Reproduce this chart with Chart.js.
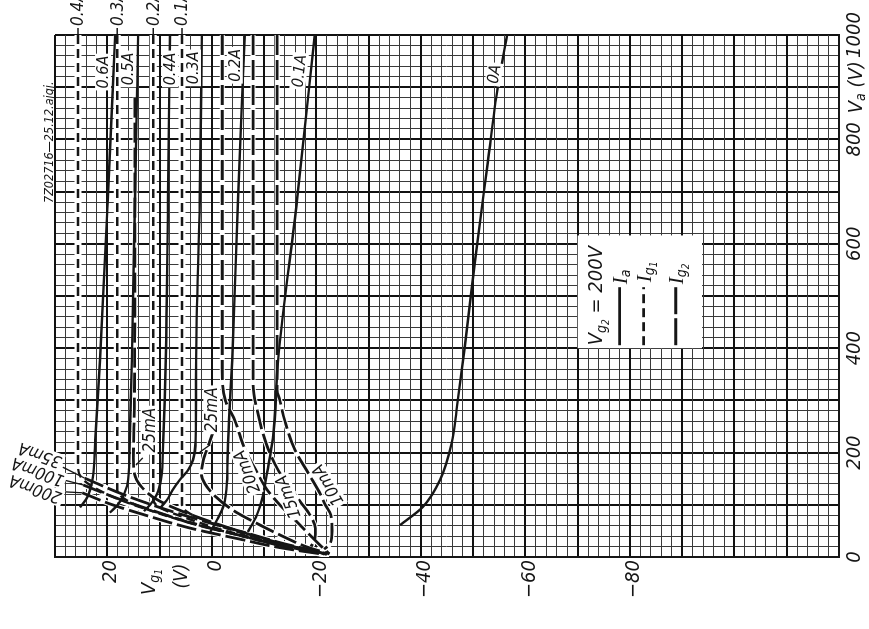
<!DOCTYPE html>
<html>
<head>
<meta charset="utf-8">
<script src="https://cdn.jsdelivr.net/npm/chart.js@4.4.1/dist/chart.umd.min.js"></script>
<style>
  html, body { margin: 0; padding: 0; background: #fff; overflow: hidden; }
  /* the sheet is laid out with Va along x and Vg1 along y, then turned a quarter turn */
  #sheet { position: absolute; left: 0; top: 0; width: 629px; height: 869px;
           transform-origin: 0 0; transform: translate(0, 629px) rotate(-90deg); }
  canvas { display: block; }
</style>
</head>
<body>
<div id="sheet"><canvas id="c" width="629" height="869"></canvas></div>
<script>
// axis ranges and labelled ticks
const vaRange = [0, 1000];
const vg1Range = [-120, 30];
const vaLabelTicks = [0, 200, 400, 600, 800, 1000];
const vg1LabelTicks = [20, 0, -20, -40, -60, -80];

// anode current Ia, constant-current curves: [Va (V), Vg1 (V)]
const ia060 = [[1000,18.5],[684,19.9],[377,21.4],[224,22.3],[150,22.8],[115,23.8],[95,25.2]];
const ia050 = [[1000,14.1],[684,14.7],[377,15.3],[224,15.7],[148,16.0],[120,16.8],[100,18.0],[85,19.5]];
const ia040 = [[1000,8.0],[684,8.4],[377,8.8],[224,9.3],[150,9.7],[120,10.5],[100,11.8],[88,13.0]];
const ia030 = [[1000,1.9],[684,2.3],[377,3.0],[224,3.1],[186,3.6],[167,4.5],[148,6.1],[128,7.5],[109,8.6],[95,9.8]];
const ia020 = [[1000,-6.3],[684,-5.0],[377,-3.9],[262,-3.3],[186,-3.0],[144,-2.9],[100,-2.3],[71,-1.0],[48,0.3]];
const ia010 = [[1000,-19.7],[684,-16.3],[377,-12.7],[228,-11.7],[163,-10.6],[110,-9.6],[80,-8.6],[48,-6.9]];
const ia000 = [[1000,-56.5],[900,-54.7],[755,-52.8],[563,-50.3],[402,-48.4],[287,-46.9],[218,-45.9],[148,-43.7],[96,-40.4],[61,-36.0]];

// control grid current Ig1
const ig1_04 = [[1000,25.6],[176,25.6],[150,24.8],[125,21],[100,15],[75,7],[50,-2],[28,-11],[10,-20]];
const ig1_03 = [[1000,18.1],[128,18.1],[110,16.5],[90,12],[65,4],[42,-5],[22,-13],[8,-20.5]];
const ig1_02 = [[1000,11.2],[110,11.2],[95,10],[75,5],[52,-2],[32,-10],[14,-18],[5,-22]];
const ig1_01 = [[1000,5.7],[100,5.7],[85,4.5],[65,0],[45,-6],[28,-12],[12,-19],[4,-22.5]];

// screen grid current Ig2
const ig2_25a = [[880,14.7],[300,14.8],[190,15.0],[160,14.8],[135,13.5],[110,10.5],[85,5],[60,-2],[38,-9],[20,-15.5],[6,-22]];
const ig2_25b = [[250,-0.6],[215,0.6],[186,1.6],[160,2.0],[140,1.3],[115,-0.8],[90,-4],[65,-8.5],[40,-13.5],[20,-18],[6,-22.5]];
const ig2_20 = [[1000,-2.0],[360,-2.0],[300,-2.6],[262,-4.4],[205,-6.4],[165,-8.5],[130,-10.5],[100,-13],[70,-16],[45,-18.5],[20,-21],[6,-22.5]];
const ig2_15 = [[1000,-7.9],[330,-7.9],[280,-8.7],[215,-10.5],[170,-12.5],[135,-14.8],[105,-17],[80,-18.8],[55,-19.8],[35,-19.7],[20,-19.0]];
const ig2_10 = [[1000,-12.5],[320,-12.5],[301,-13.0],[260,-14.0],[205,-15.9],[160,-18.5],[120,-20.8],[100,-21.7],[80,-22.8],[50,-23.0],[25,-22.6],[15,-21.5]];
const ig2_35 = [[151,24.3],[120,17],[95,10],[70,2],[45,-7],[25,-14],[8,-21.5]];
const ig2_100 = [[138,24.6],[112,18],[88,11],[62,3],[40,-6],[20,-14],[6,-21.5]];
const ig2_200 = [[123,24.8],[100,19],[78,12],[55,4],[35,-5],[18,-13],[5,-21.5]];

// curve labels: text, Va, Vg1 (centre), rotation in degrees
const iaLabels = [['0.6A',929,20.8,0],['0.5A',935,16.0,0],['0.4A',935,8.0,0],['0.3A',937,3.6,0],
                  ['0.2A',942,-4.4,0],['0.1A',931,-16.7,6],['0A',925,-54.0,9.5]];
const ig1Labels = [['0.4A',25.6],['0.3A',18.1],['0.2A',11.2],['0.1A',5.7]];
const ig2Labels = [['25mA',243,12.0,0],['25mA',282,0.0,0],['20mA',163,-6.7,-22],['15mA',115,-14.6,-20],['10mA',138,-22.2,-31],
                   ['35mA',195,32.9,-70],['100mA',163,33.3,-70],['200mA',130,33.8,-70]];
const ig2Leaders = [[[190,13.2],[176,14.5]],[[215,0.3],[201,2.3]],
                    [[172,28.5],[151,24.3]],[[148,28.5],[138,24.6]],[[125,28.5],[123,24.8]]];

const INK = '#161616';
const FONT = "'DejaVu Sans Condensed','Liberation Sans Narrow','DejaVu Sans',sans-serif";
const SERIF = "'Liberation Serif','DejaVu Serif',serif";

const toXY = a => a.map(([x, y]) => ({ x, y }));
const line = { showLine: true, pointRadius: 0, fill: false, cubicInterpolationMode: 'monotone', borderCapStyle: 'butt' };
const iaSet = [ia060, ia050, ia040, ia030, ia020, ia010, ia000];
const ig1Set = [ig1_04, ig1_03, ig1_02, ig1_01];
const ig2Set = [ig2_25a, ig2_25b, ig2_20, ig2_15, ig2_10, ig2_35, ig2_100, ig2_200];

const datasets = [];
// white bands under the broken lines
ig1Set.forEach(p => datasets.push({ ...line, data: toXY(p), borderColor: '#fff', borderWidth: 7, order: 5 }));
ig2Set.forEach(p => datasets.push({ ...line, data: toXY(p), borderColor: '#fff', borderWidth: 5, order: 5 }));
iaSet.forEach(p => datasets.push({ ...line, data: toXY(p), borderColor: INK, borderWidth: 2.4, order: 1 }));
ig1Set.forEach(p => datasets.push({ ...line, data: toXY(p), borderColor: INK, borderWidth: 2.4, borderDash: [9, 5], order: 1 }));
ig2Set.forEach(p => datasets.push({ ...line, data: toXY(p), borderColor: INK, borderWidth: 2.8, borderDash: [20, 5], order: 1 }));

function range(a, b, s) { const r = []; for (let v = a; v <= b; v += s) r.push(v); return r; }

// text with subscripts: parts = [text, size, dy, family, style]
function rich(ctx, x, y, parts, align) {
  const fontOf = p => `${p[4] || 'italic'} ${p[1]}px ${p[3] || FONT}`;
  const ws = parts.map(p => { ctx.font = fontOf(p); return ctx.measureText(p[0]).width; });
  const total = ws.reduce((a, b) => a + b, 0);
  let cx = align === 'center' ? x - total / 2 : x;
  ctx.textAlign = 'left'; ctx.textBaseline = 'alphabetic';
  parts.forEach((p, i) => {
    ctx.font = fontOf(p);
    ctx.fillText(p[0], cx, y + p[2]);
    cx += ws[i];
  });
}

function boxed(ctx, text, x, y, size, deg) {
  ctx.save();
  ctx.translate(x, y);
  ctx.rotate(deg * Math.PI / 180);
  ctx.font = `italic ${size}px ${FONT}`;
  const w = ctx.measureText(text).width;
  ctx.fillStyle = '#fff';
  ctx.fillRect(-w / 2 - 2, -size * 0.5, w + 4, size);
  ctx.fillStyle = INK;
  ctx.textAlign = 'center'; ctx.textBaseline = 'middle';
  ctx.fillText(text, 0, 1);
  ctx.restore();
}

const annotations = {
  id: 'annotations',
  afterDatasetsDraw(chart) {
    const ctx = chart.ctx, X = chart.scales.x, Y = chart.scales.y, A = chart.chartArea;
    const P = (va, vg) => [X.getPixelForValue(va), Y.getPixelForValue(vg)];
    ctx.save();
    ctx.fillStyle = INK; ctx.strokeStyle = INK;

    // label leaders
    ctx.lineWidth = 1.3;
    ig2Leaders.forEach(([a, b]) => {
      const p = P(a[0], a[1]), q = P(b[0], b[1]);
      ctx.beginPath(); ctx.moveTo(p[0], p[1]); ctx.lineTo(q[0], q[1]); ctx.stroke();
    });

    iaLabels.forEach(([t, va, vg, d]) => { const [x, y] = P(va, vg); boxed(ctx, t, x, y, 16, d); });
    ig2Labels.forEach(([t, va, vg, d]) => { const [x, y] = P(va, vg); boxed(ctx, t, x, y, 17, d); });

    // Ig1 values beyond the top edge
    ctx.lineWidth = 1.5;
    ig1Labels.forEach(([t, vg]) => {
      const y = Y.getPixelForValue(vg);
      ctx.beginPath(); ctx.moveTo(A.right, y); ctx.lineTo(A.right + 7, y); ctx.stroke();
      ctx.font = `italic 17px ${FONT}`;
      ctx.textAlign = 'left'; ctx.textBaseline = 'middle';
      ctx.fillText(t, A.right + 9, y + 1);
    });

    // legend panel
    const [bx0, by0] = P(400, -70), [bx1, by1] = P(616, -93.8);
    ctx.fillStyle = '#fff';
    ctx.fillRect(bx0, by0, bx1 - bx0, by1 - by0);
    ctx.fillStyle = INK;
    rich(ctx, bx0 + 3, by0 + 24, [['V', 20, 0], ['g', 14, 4], ['2', 10, 7], [' = 200V', 20, 0]]);
    [[42, []], [66, [9, 5]], [98, [27, 4]]].forEach(([dy, dash], i) => {
      ctx.setLineDash(dash);
      ctx.lineWidth = i === 2 ? 3 : 2.6;
      ctx.beginPath(); ctx.moveTo(bx0 + 3, by0 + dy); ctx.lineTo(bx0 + 61, by0 + dy); ctx.stroke();
    });
    ctx.setLineDash([]);
    rich(ctx, bx0 + 64, by0 + 49, [['I', 21, 0, SERIF], ['a', 14, 3]]);
    rich(ctx, bx0 + 66, by0 + 73, [['I', 21, 0, SERIF], ['g', 14, 3], ['1', 10, 6]]);
    rich(ctx, bx0 + 64, by0 + 105, [['I', 21, 0, SERIF], ['g', 14, 3], ['2', 10, 6]]);

    // axis titles
    rich(ctx, A.left - 25, Y.getPixelForValue(12.2) + 7, [['V', 20, 0], ['g', 14, 4], ['1', 10, 7]], 'center');
    rich(ctx, A.left - 19, Y.getPixelForValue(6.1) + 7, [['(V)', 19, 0]], 'center');
    rich(ctx, X.getPixelForValue(900), A.bottom + 23, [['V', 20, 0], ['a', 14, 3], [' (V)', 20, 0]], 'center');

    // drawing number
    ctx.font = `italic 12.5px ${FONT}`;
    ctx.textAlign = 'left'; ctx.textBaseline = 'middle';
    ctx.fillText('7Z02716\u201425.12.ajgj.', 426, A.top - 5);
    ctx.restore();
  }
};

const gridStyle = major => ({
  color: c => (c.tick && major(c.tick.value)) ? '#111' : '#3a3a3a',
  lineWidth: c => (c.tick && major(c.tick.value)) ? 2 : 1,
  drawTicks: false
});

new Chart(document.getElementById('c'), {
  type: 'scatter',
  data: { datasets },
  options: {
    responsive: false,
    animation: false,
    events: [],
    layout: { padding: { top: 55, right: 35, bottom: 0, left: 0 } },
    plugins: { legend: { display: false }, tooltip: { enabled: false } },
    scales: {
      x: {
        type: 'linear', position: 'bottom', min: vaRange[0], max: vaRange[1],
        afterBuildTicks: s => { s.ticks = range(vaRange[0], vaRange[1], 20).map(v => ({ value: v })); },
        afterFit: s => { s.height = 30; },
        ticks: {
          autoSkip: false, maxRotation: 0, minRotation: 0, padding: 4, color: INK,
          font: { family: FONT, size: 20, style: 'italic' },
          callback: v => vaLabelTicks.includes(v) ? String(v) : ''
        },
        grid: gridStyle(v => v % 100 === 0),
        border: { display: true, color: INK, width: 2 }
      },
      y: {
        type: 'linear', position: 'left', min: vg1Range[0], max: vg1Range[1],
        afterBuildTicks: s => { s.ticks = range(vg1Range[0], vg1Range[1], 2).map(v => ({ value: v })); },
        afterFit: s => { s.width = 72; },
        ticks: {
          autoSkip: false, padding: 3, color: INK, labelOffset: 4,
          font: { family: FONT, size: 20, style: 'italic' },
          callback: v => vg1LabelTicks.includes(v) ? (v < 0 ? '\u2212' + Math.abs(v) : String(v)) : ''
        },
        grid: gridStyle(v => v % 10 === 0),
        border: { display: true, color: INK, width: 2 }
      }
    }
  },
  plugins: [annotations]
});
</script>
</body>
</html>
